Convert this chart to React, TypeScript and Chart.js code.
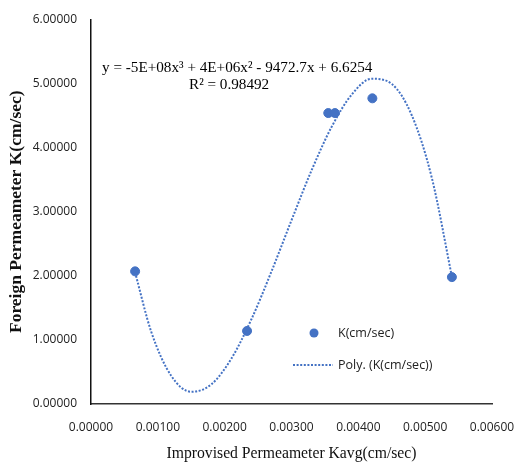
import React, { useEffect, useRef } from "react";
import { Chart, registerables } from "chart.js";

Chart.register(...registerables);

// Measured data (Improvised permeameter Kavg vs Foreign permeameter K)
const kavg = [0.00066, 0.002335, 0.00355, 0.00365, 0.00421, 0.0054];
const kForeign = [2.07, 1.14, 4.54, 4.54, 4.77, 1.98];

// Polynomial trendline (order 3) values
const trendX = [0.00066, 0.0009, 0.0012, 0.0015, 0.0018, 0.0021, 0.0024, 0.0027, 0.003, 0.0033, 0.0036, 0.0039, 0.0042, 0.0045, 0.0048, 0.0051, 0.0054];
const trendY = [2.053, 1.131, 0.44, 0.191, 0.306, 0.708, 1.322, 2.067, 2.867, 3.645, 4.324, 4.827, 5.076, 4.994, 4.504, 3.527, 1.988];

const equationText = "y = -5E+08x\u00B3 + 4E+06x\u00B2 - 9472.7x + 6.6254";
const r2Text = "R\u00B2 = 0.98492";
const seriesName = "K(cm/sec)";
const trendName = "Poly. (K(cm/sec))";
const xTitle = "Improvised Permeameter Kavg(cm/sec)";
const yTitle = "Foreign Permeameter K(cm/sec)";

const BLUE = "#4472C4";
const TICK_FONT = "'Open Sans', 'Noto Sans', sans-serif";
const SERIF = "'Liberation Serif', 'Times New Roman', serif";

export default function App() {
  const ref = useRef<HTMLCanvasElement | null>(null);

  useEffect(() => {
    if (!ref.current) return;
    const overlay = {
      id: "overlay",
      afterDraw(chart: any) {
        const ctx = chart.ctx;
        ctx.save();
        // trendline label
        ctx.fillStyle = "#000";
        ctx.font = `15.2px ${SERIF}`;
        ctx.textBaseline = "middle";
        ctx.textAlign = "left";
        ctx.fillText(equationText, 102, 68);
        ctx.fillText(r2Text, 189, 85);
        // legend
        const ds0 = chart.data.datasets[0];
        const ds1 = chart.data.datasets[1];
        ctx.fillStyle = ds0.backgroundColor;
        ctx.beginPath();
        ctx.arc(314, 333, 4.5, 0, Math.PI * 2);
        ctx.fill();
        ctx.strokeStyle = ds1.borderColor;
        ctx.lineWidth = ds1.borderWidth;
        ctx.setLineDash(ds1.borderDash);
        ctx.beginPath();
        ctx.moveTo(293, 365);
        ctx.lineTo(333, 365);
        ctx.stroke();
        ctx.setLineDash([]);
        ctx.fillStyle = "#222";
        ctx.font = `12.5px ${TICK_FONT}`;
        ctx.fillText(seriesName, 338, 333);
        ctx.fillText(trendName, 338, 365);
        ctx.restore();
      },
    };

    const chart = new Chart(ref.current, {
      type: "scatter",
      data: {
        datasets: [
          {
            label: seriesName,
            data: kavg.map((x, i) => ({ x, y: kForeign[i] })),
            backgroundColor: BLUE,
            borderColor: BLUE,
            pointRadius: 4.5,
            pointHoverRadius: 4.5,
            showLine: false,
            order: 0,
          },
          {
            label: trendName,
            data: trendX.map((x, i) => ({ x, y: trendY[i] })),
            borderColor: BLUE,
            backgroundColor: BLUE,
            borderWidth: 2,
            borderDash: [2, 1.6],
            pointRadius: 0,
            showLine: true,
            tension: 0.4,
            cubicInterpolationMode: "monotone",
            order: 1,
          } as any,
        ],
      },
      options: {
        responsive: false,
        animation: false,
        layout: { padding: { top: 19.5, right: 24, left: 0, bottom: 0 } },
        plugins: { legend: { display: false }, tooltip: { enabled: false } },
        scales: {
          x: {
            type: "linear",
            min: 0,
            max: 0.006,
            afterFit: (s: any) => {
              s.height = 62;
              s.paddingLeft = 0;
              s.paddingRight = 0;
            },
            ticks: {
              stepSize: 0.001,
              padding: 16,
              color: "#222",
              font: { family: TICK_FONT, size: 12 },
              callback: (v: any) => Number(v).toFixed(5),
            },
            grid: { display: true, color: "rgba(0,0,0,0)", drawTicks: false },
            border: { display: true, color: "#333", width: 1.5 },
            title: {
              display: true,
              text: xTitle,
              color: "#111",
              font: { family: SERIF, size: 15.7 },
              padding: { top: 0, bottom: 3 },
            },
          },
          y: {
            type: "linear",
            min: 0,
            max: 6,
            afterFit: (s: any) => {
              s.width = 91;
              s.paddingTop = 0;
              s.paddingBottom = 0;
            },
            ticks: {
              stepSize: 1,
              padding: 14,
              color: "#222",
              font: { family: TICK_FONT, size: 12 },
              callback: (v: any) => Number(v).toFixed(5),
            },
            grid: { display: true, color: "rgba(0,0,0,0)", drawTicks: false },
            border: { display: true, color: "#111", width: 1.5 },
            title: {
              display: true,
              text: yTitle,
              color: "#111",
              font: { family: SERIF, size: 17.5, weight: "bold" },
              padding: { top: 6, bottom: 0 },
            },
          },
        },
      },
      plugins: [overlay],
    });
    return () => chart.destroy();
  }, []);

  return (
    <div style={{ position: "absolute", left: 0, top: 0, width: 516, height: 466, background: "#fff" }}>
      <canvas ref={ref} width={516} height={466} />
    </div>
  );
}
